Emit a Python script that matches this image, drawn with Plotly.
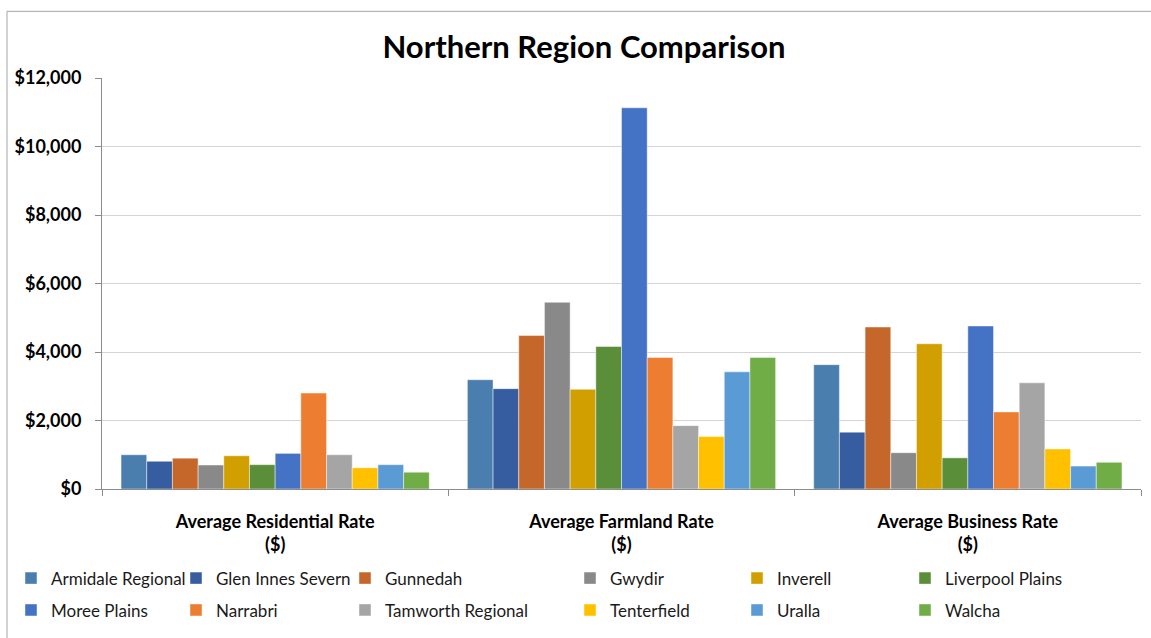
import plotly.graph_objects as go

# Rate categories shown on the x axis
categories = [
    "Average Residential Rate<br>($)",
    "Average Farmland Rate<br>($)",
    "Average Business Rate<br>($)",
]

# Councils in the Northern region, one bar series each
councils = [
    "Armidale Regional", "Glen Innes Severn", "Gunnedah", "Gwydir",
    "Inverell", "Liverpool Plains", "Moree Plains", "Narrabri",
    "Tamworth Regional", "Tenterfield", "Uralla", "Walcha",
]

# Average rates per council: [residential, farmland, business]
armidale_regional = [1000, 3190, 3630]
glen_innes_severn = [810, 2930, 1660]
gunnedah = [900, 4480, 4730]
gwydir = [700, 5450, 1060]
inverell = [970, 2910, 4240]
liverpool_plains = [710, 4160, 910]
moree_plains = [1040, 11130, 4760]
narrabri = [2800, 3840, 2250]
tamworth_regional = [1000, 1850, 3100]
tenterfield = [620, 1530, 1170]
uralla = [710, 3420, 670]
walcha = [490, 3840, 780]

series_values = [
    armidale_regional, glen_innes_severn, gunnedah, gwydir,
    inverell, liverpool_plains, moree_plains, narrabri,
    tamworth_regional, tenterfield, uralla, walcha,
]

colors = [
    "#4A7EAF", "#365D9F", "#C5672A", "#898989",
    "#D29F00", "#5B8E38", "#4472C4", "#ED7D31",
    "#A5A5A5", "#FFC000", "#5B9BD5", "#70AD47",
]

y_ticks = [0, 2000, 4000, 6000, 8000, 10000, 12000]
y_tick_labels = ["$0", "$2,000", "$4,000", "$6,000", "$8,000", "$10,000", "$12,000"]

FONT = "Lato"

# plot area in pixels: x 102..1141, y 78..491
W, H = 1151, 638
L, R, T, B = 102, 10, 78, 147
pw, ph = W - L - R, H - T - B


def px_x(x):
    return (x - L) / pw


def px_y(y):
    return (H - B - y) / ph


# legend grid: six columns (left edge of each entry's text), two rows
legend_text_x = [51, 216, 385, 610, 777, 945]
legend_row_y = [581, 613]

fig = go.Figure()
layout_legends = {}
for i, (name, vals, col) in enumerate(zip(councils, series_values, colors)):
    key = "legend" if i == 0 else f"legend{i + 1}"
    fig.add_trace(go.Bar(
        name=name,
        x=categories,
        y=vals,
        marker=dict(color=col, line=dict(color="rgba(255,255,255,0.45)", width=1)),
        legend=key,
        showlegend=True,
        hovertemplate="%{fullData.name}: $%{y:,}<extra></extra>",
    ))
    row, column = divmod(i, 6)
    layout_legends[key] = dict(
        orientation="v",
        xanchor="left",
        yanchor="middle",
        x=px_x(legend_text_x[column] - 40),
        y=px_y(legend_row_y[row]),
        font=dict(family=FONT, size=17, color="#1a1a1a"),
        bgcolor="rgba(0,0,0,0)",
        borderwidth=0,
        itemclick=False,
        itemdoubleclick=False,
        visible=True,
    )

fig.update_layout(
    width=W,
    height=H,
    margin=dict(l=L, r=R, t=T, b=B),
    paper_bgcolor="white",
    plot_bgcolor="white",
    showlegend=True,
    barmode="group",
    bargap=0.11,
    bargroupgap=0,
    font=dict(family=FONT, color="#000000"),
    title=dict(
        text="<b>Northern Region Comparison</b>",
        x=584 / W,
        xref="container",
        xanchor="center",
        y=1 - 47 / H,
        yref="container",
        yanchor="middle",
        font=dict(family=FONT, size=31, color="#000000"),
    ),
    xaxis=dict(
        range=[-0.5, 2.5],
        showline=True,
        linecolor="#8C8C8C",
        linewidth=1,
        ticks="outside",
        tickson="boundaries",
        ticklen=6,
        tickcolor="#8C8C8C",
        showgrid=False,
        ticklabelstandoff=16,
        tickfont=dict(family=FONT, size=18, color="#000000", weight="bold"),
        fixedrange=True,
    ),
    yaxis=dict(
        range=[0, 12000],
        tickvals=y_ticks,
        ticktext=y_tick_labels,
        showline=True,
        linecolor="#8C8C8C",
        linewidth=1,
        ticks="outside",
        ticklen=6,
        tickcolor="#8C8C8C",
        showgrid=True,
        gridcolor="#D4D4D4",
        gridwidth=1,
        zeroline=False,
        ticklabelstandoff=10,
        tickfont=dict(family=FONT, size=18, color="#000000", weight="bold"),
        fixedrange=True,
    ),
    shapes=[
        dict(
            type="rect",
            xref="paper", yref="paper",
            x0=px_x(7), x1=px_x(1170),
            y0=px_y(660), y1=px_y(11),
            line=dict(color="#A6A6A6", width=1),
            fillcolor="rgba(0,0,0,0)",
            layer="below",
        )
    ],
    **layout_legends,
)

fig.write_html("out.html")
